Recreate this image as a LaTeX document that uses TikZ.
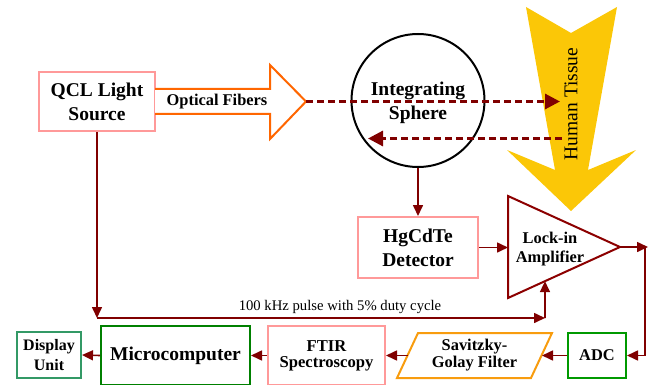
\documentclass[tikz,border=0pt]{standalone}
\usepackage{fontspec}
\setmainfont{Liberation Serif}
\usetikzlibrary{calc, arrows.meta, positioning}
\definecolor{dispgreen}{RGB}{51,153,102}

\begin{document}
\begin{tikzpicture}[x=1pt, y=-1pt,
  every node/.style={font=\bfseries, align=center, inner sep=0pt},
  pinkbox/.style={draw=red!40, line width=2pt, fill=white},
  big/.style={font=\fontsize{19.5}{24}\selectfont\bfseries},
  mid/.style={font=\fontsize{16.4}{19.5}\selectfont\bfseries},
  sig/.style={draw=red!50!black, line width=1.6pt, -{Triangle[length=11pt, width=10pt]}},
  beam/.style={draw=red!50!black, line width=3pt, dash pattern=on 7pt off 4pt,
    -{Triangle[length=15pt, width=15pt]}}]

\useasboundingbox (0,0) rectangle (653,385);

% Light source
\node[pinkbox, big, minimum width=116pt, minimum height=59pt] (qcl) at (97,101.5) {QCL Light\\Source};

% Optical fibers arrow
\draw[red!60!yellow, line width=2pt, fill=white, line join=miter]
  (155,89) -- (270,89) -- (270,65) -- (306,101.5) -- (270,139) -- (270,114) -- (155,114);
\node[mid] (fibers) at (217,101.5) {Optical Fibers};
\coordinate (fibtip) at (306,101.5);

% Integrating sphere
\node[draw, circle, line width=2pt, minimum size=133pt] (sphere) at (418,100.5) {};
\node[big] (spheretxt) at (418,103) {Integrating\\Sphere};

% Human tissue
\fill[yellow!80!red]
  (526,7) -- (571,33) -- (617,7) -- (588,170) -- (636,150) -- (571,211)
  -- (507,150) -- (555,170) -- cycle;
\coordinate (tissuein) at (560,101.5);
\coordinate (tissueout) at (562,138.5);
\coordinate (spherein) at (368,138.5);

% Beams to and from the tissue
\draw[beam] (fibtip) -- (tissuein);
\draw[beam] (tissueout) -- (spherein);
\node[font=\fontsize{19.5}{20}\selectfont, rotate=90] (tissue) at (571,104) {Human Tissue};

% Detector
\node[pinkbox, big, minimum width=120pt, minimum height=61pt] (det) at (418,247.5) {HgCdTe\\Detector};
\draw[sig] (sphere.south) -- (det.north);

% Lock-in amplifier
\coordinate (amptop) at (508,196);
\coordinate (ampbot) at (508,298);
\coordinate (amptip) at (620,247);
\draw[red!55!black, line width=2pt, fill=white, line join=miter] (amptop) -- (amptip) -- (ampbot) -- cycle;
\node[mid] (amp) at (550,249) {Lock-in\\Amplifier};
\draw[sig] (det.east) -- (det.east -| amptop);
\coordinate (ampin) at ($(ampbot)!0.33!(amptip)$);

% Amplifier out to ADC
\coordinate (outr) at (648,247);
\coordinate (outc) at (645,247);
\node[draw=green!60!black, line width=2pt, fill=white, mid, minimum width=58pt, minimum height=45pt]
  (adc) at (597,355.5) {ADC};
\draw[sig] (amptip) -- (outr);
\draw[sig] (outc) |- (adc.east);

% Savitzky-Golay filter
\draw[yellow!60!red, line width=2pt, fill=white, line join=miter]
  (418,333) -- (552,333) -- (531,378) -- (397,378) -- cycle;
\node[mid, font=\fontsize{16.4}{17}\selectfont\bfseries] (sg) at (474.5,355.5) {Savitzky-\\Golay Filter};
\coordinate (sgright) at (542,355.5);
\coordinate (sgleft) at (407.5,355.5);
\draw[sig] (adc.west) -- (sgright);

% FTIR
\node[pinkbox, font=\fontsize{16.6}{16}\selectfont\bfseries, minimum width=117pt, minimum height=59pt]
  (ftir) at (326.5,355.5) {FTIR\\Spectroscopy};
\draw[sig] (sgleft) -- (ftir.east);

% Microcomputer and display
\node[draw=green!50!black, line width=2pt, big, minimum width=149pt, minimum height=59pt]
  (micro) at (175.5,355.5) {Microcomputer};
\node[draw=dispgreen, line width=2pt, font=\fontsize{16}{19.3}\selectfont\bfseries,
  minimum width=64pt, minimum height=46pt] (disp) at (49,355) {Display\\Unit};
\draw[sig] (ftir.west) -- (micro.east);
\draw[sig] (micro.west) -- (disp.east);

% Pulse reference to lock-in
\coordinate (pulse) at (97,318);
\coordinate (pulseend) at (545,318);
\draw[sig] (qcl.south) -- (pulse);
\draw[sig] (pulse) -- (pulseend);
\draw[sig] (pulseend) -- (ampin);
\node[font=\fontsize{14.7}{15}\selectfont] (pulselbl) at (340,307) {100 kHz pulse with 5\% duty cycle};

\end{tikzpicture}
\end{document}
